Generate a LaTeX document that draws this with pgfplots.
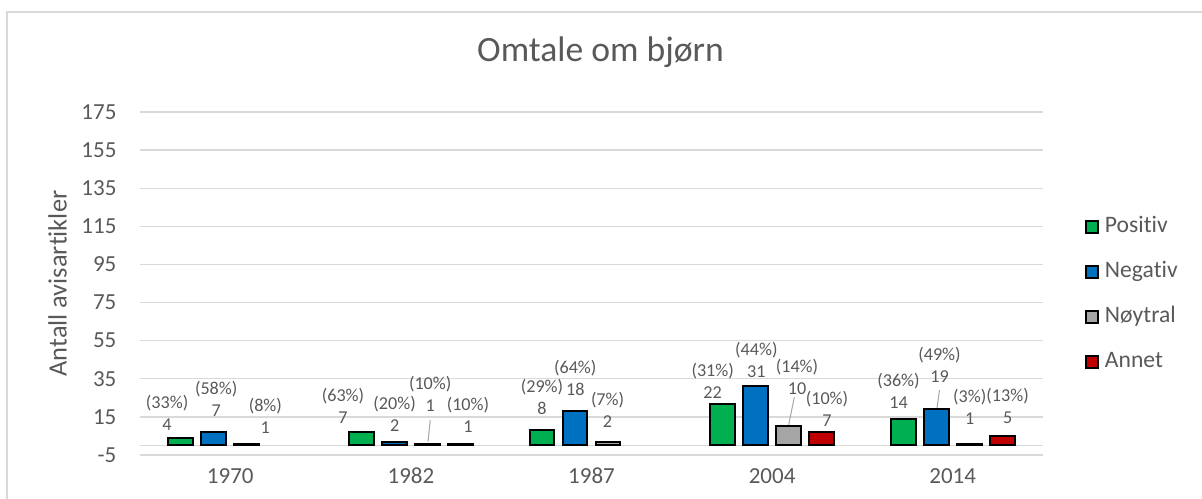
\documentclass[border=0pt]{standalone}
\usepackage{pgfplots}
\pgfplotsset{compat=1.18}
\usepackage{fontspec}
\setmainfont{Carlito}[Ligatures={NoCommon,NoContextual}, Contextuals={NoAlternate}]
\definecolor{txt}{HTML}{595959}
\definecolor{grd}{HTML}{D9D9D9}
\definecolor{cpos}{HTML}{00B050}
\definecolor{cneg}{HTML}{0070C0}
\definecolor{cnoy}{HTML}{A5A5A5}
\definecolor{cann}{HTML}{C00000}
\definecolor{lead}{HTML}{A6A6A6}
\newcommand{\lbl}[4]{\node[align=center, font=\fontsize{13.6}{16.5}\selectfont, text=txt, inner sep=0pt] at (axis cs:#1,#2) {(#3\%)\\#4};}
\begin{document}
\begin{tikzpicture}
\path[use as bounding box] (0,0) rectangle (901.5pt,374.25pt);
\draw[grd, line width=1.5pt] (910pt,365.25pt) -- (5.25pt,365.25pt) -- (5.25pt,-10pt);
\begin{axis}[
  at={(105pt,33pt)}, anchor=south west,
  scale only axis, width=677.25pt, height=257.25pt,
  xmin=-0.5, xmax=4.5, ymin=-5, ymax=175,
  xtick={0,1,2,3,4}, xticklabels={1970,1982,1987,2004,2014},
  ytick={-5,15,35,55,75,95,115,135,155,175},
  yticklabels={-5,15,35,55,75,95,115,135,155,175},
  major tick length=0pt,
  axis line style={draw=none},
  ymajorgrids, grid style={grd, line width=1pt},
  extra y ticks={0}, extra y tick labels={}, extra y tick style={grid=major},
  tick label style={font=\fontsize{17.25}{20}\selectfont, text=txt, inner sep=0pt},
  yticklabel style={anchor=east, xshift=-17.5pt},
  xticklabel style={anchor=north, yshift=-9.75pt},
  title={Omtale om bjørn},
  title style={at={(axis description cs:0.51,1.124)}, anchor=base, font=\fontsize{26.7}{30}\selectfont, text=txt, inner sep=0pt},
  ylabel={Antall avisartikler},
  ylabel style={at={(axis description cs:-0.0914,0.5)}, anchor=center, font=\fontsize{19.8}{22}\selectfont, text=txt, inner sep=0pt},
  clip=false,
  legend style={at={(axis description cs:1.0465,0.4688)}, anchor=west, draw=none, fill=none, inner sep=0pt, outer sep=0pt,
    font=\fontsize{17.7}{20}\selectfont, text=txt, row sep=17.75pt, column sep=4.5pt,
    nodes={inner sep=0pt, text height=12pt, text depth=4pt}},
  legend cell align=left,
  legend image code/.code={\draw[#1, draw=black, line width=1.5pt] (0pt,-4.5pt) rectangle (9pt,4.5pt);},
]
\draw[lead, line width=0.75pt] (axis cs:1.107,13.4) -- (axis cs:1.095,2.0);
\draw[lead, line width=0.75pt] (axis cs:3.123,25.4) -- (axis cs:3.091,10.4);
\draw[lead, line width=0.75pt] (axis cs:3.927,29.1) -- (axis cs:3.913,19.5);
\addplot[ybar, bar width=0.138, bar shift=-0.274, fill=cpos, draw=black, line width=1.5pt] coordinates {(0,4) (1,7) (2,8) (3,22) (4,14)};
\addplot[ybar, bar width=0.138, bar shift=-0.0914, fill=cneg, draw=black, line width=1.5pt] coordinates {(0,7) (1,2) (2,18) (3,31) (4,19)};
\addplot[ybar, bar width=0.138, bar shift=0.0914, fill=cnoy, draw=black, line width=1.5pt] coordinates {(0,1) (1,1) (2,2) (3,10) (4,1)};
\addplot[ybar, bar width=0.138, bar shift=0.274, fill=cann, draw=black, line width=1.5pt] coordinates {(1,1) (3,7) (4,5)};
\legend{Positiv,Negativ,Nøytral,Annet}
\lbl{-0.350}{17.3}{33}{4}
\lbl{-0.078}{24.3}{58}{7}
\lbl{0.194}{15.7}{8}{1}
\lbl{0.624}{20.6}{63}{7}
\lbl{0.910}{16.7}{20}{2}
\lbl{1.107}{27.1}{10}{1}
\lbl{1.316}{16.0}{10}{1}
\lbl{1.726}{25.3}{29}{8}
\lbl{1.910}{35.7}{64}{18}
\lbl{2.089}{18.8}{7}{2}
\lbl{2.671}{33.9}{31}{22}
\lbl{2.913}{44.9}{44}{31}
\lbl{3.138}{35.8}{14}{10}
\lbl{3.304}{19.3}{10}{7}
\lbl{3.700}{28.6}{36}{14}
\lbl{3.927}{42.2}{49}{19}
\lbl{4.094}{20.1}{3}{1}
\lbl{4.304}{21.0}{13}{5}
\end{axis}
\end{tikzpicture}
\end{document}
